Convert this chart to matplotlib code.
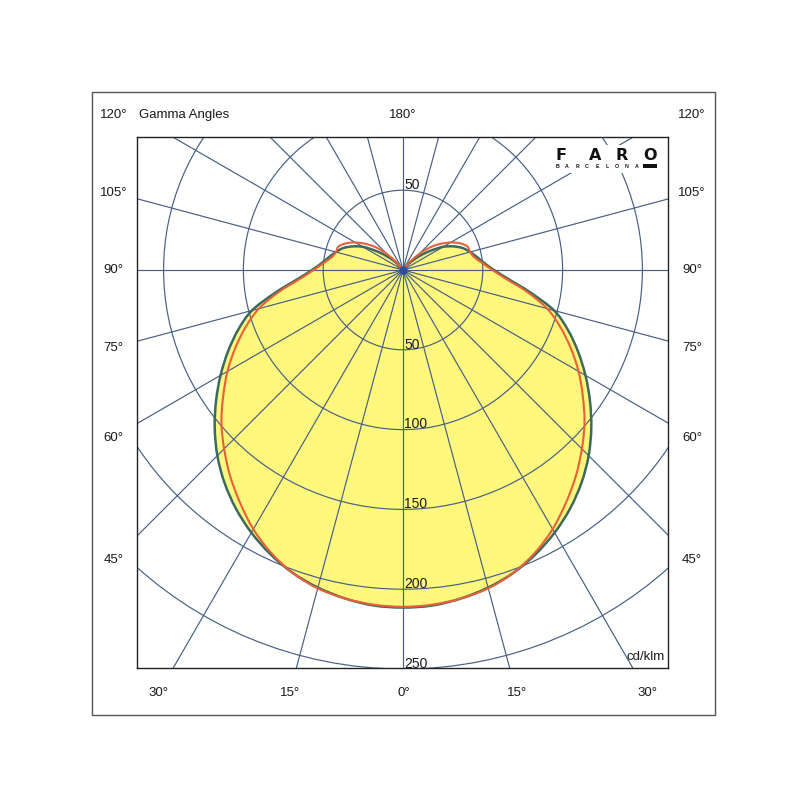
import numpy as np
import matplotlib
matplotlib.use("Agg")
import matplotlib.pyplot as plt
from matplotlib.patches import Circle, Rectangle, PathPatch
from matplotlib.path import Path

plt.rcParams['font.family'] = ['Liberation Sans', 'DejaVu Sans']

# ---- data (cd/klm) ----
gamma = [0, 5, 10, 15, 20, 25, 30, 35, 40, 45, 50, 55, 60, 65, 70, 75, 80, 85, 90,
         95, 100, 105, 110, 115, 120, 125, 130, 135, 140, 145, 150, 155, 160, 165,
         170, 175, 180]
c0_c180 = [211.5, 211, 209, 206, 202, 196.5, 190, 182.5, 174, 164.5, 154, 143, 132,
           121, 110, 98, 81, 66.5, 57, 51, 47, 43.5, 40, 35, 29, 21, 14, 8, 4, 2, 1,
           0, 0, 0, 0, 0, 0]
c90_c270 = [211, 210.5, 209, 206.5, 202, 195.5, 187.5, 178, 168.5, 158.5, 148.5,
            137.5, 127, 116, 105, 93.5, 79, 65, 56, 50, 45.5, 43.5, 43, 39.5, 34.5,
            28.5, 22, 14, 6, 2, 1, 0, 0, 0, 0, 0, 0]
radial_ticks = [50, 100, 150, 200, 250]
angle_step = 15
side_labels = ['120°', '105°', '90°', '75°', '60°', '45°']
bottom_labels = ['30°', '15°', '0°', '15°', '30°']
unit_label = 'cd/klm'
title_label = 'Gamma Angles'
top_label = '180°'

# ---- layout ----
W = 800
S = 399 / 250.0          # pixels per cd/klm
CX, CY = 403, 270        # centre of diagram (pixels)
L, T, R, B = 137, 137, 668, 668

fig = plt.figure(figsize=(8, 8), dpi=100)
fig.patch.set_facecolor('white')
ax = fig.add_axes([L / W, 1 - B / W, (R - L) / W, (B - T) / W])
ax.set_xlim((L - CX) / S, (R - CX) / S)
ax.set_ylim(-(B - CY) / S, (CY - T) / S)
ax.set_xticks([])
ax.set_yticks([])
for sp in ax.spines.values():
    sp.set_color('#222222')
    sp.set_linewidth(1.0)

def fx(px):
    return px / W

def fy(py):
    return 1 - py / W

# outer frame
fig.patches.append(Rectangle((fx(92), fy(715)), 623 / W, 623 / W, fill=False,
                             edgecolor='#555555', lw=1.0, transform=fig.transFigure))


def to_xy(g_deg, r):
    g = np.radians(np.asarray(g_deg, float))
    r = np.asarray(r, float)
    return r * np.sin(g), -r * np.cos(g)


def mirrored(g, r):
    g = np.asarray(g, float)
    r = np.asarray(r, float)
    gg = np.concatenate([-g[::-1], g[1:]])
    rr = np.concatenate([r[::-1], r[1:]])
    return to_xy(gg, rr)


def smooth_path(x, y):
    """Smooth (Catmull-Rom style) Bezier path through the data points."""
    pts = np.column_stack([x, y])
    n = len(pts)
    verts = [pts[0]]
    codes = [Path.MOVETO]
    for i in range(n - 1):
        p0 = pts[i - 1] if i > 0 else pts[i]
        p1 = pts[i]
        p2 = pts[i + 1]
        p3 = pts[i + 2] if i + 2 < n else pts[i + 1]
        verts += [p1 + (p2 - p0) / 6.0, p2 - (p3 - p1) / 6.0, p2]
        codes += [Path.CURVE4] * 3
    return Path(np.array(verts), codes)


grid_col = '#465f86'

# yellow fill
tx, ty = mirrored(gamma, c0_c180)
teal_path = smooth_path(tx, ty)
ax.add_patch(PathPatch(teal_path, facecolor='#fff87c', edgecolor='none', zorder=1))

# grid circles
for rt in radial_ticks + [300]:
    ax.add_patch(Circle((0, 0), rt, fill=False, edgecolor=grid_col, lw=0.85, zorder=2))
# radial lines
for a in range(0, 360, angle_step):
    lx, ly = to_xy([a, a], [0, 400])
    ax.plot(lx, ly, color=grid_col, lw=0.85, zorder=2)

# curves
ax.add_patch(PathPatch(teal_path, facecolor='none', edgecolor='#3d6a5e', lw=1.8,
                       zorder=3, joinstyle='round'))
rx, ry = mirrored(gamma, c90_c270)
ax.add_patch(PathPatch(smooth_path(rx, ry), facecolor='none', edgecolor='#e8603a',
                       lw=1.5, zorder=4, joinstyle='round'))
ax.plot([0], [0], 'o', ms=5, color='#2b4f9e', zorder=5)

# radial value labels
ax.text(0.6, radial_ticks[0] + 0.6, str(radial_ticks[0]), fontsize=10,
        ha='left', va='baseline', color='#1a1a1a', zorder=6)
for rt in radial_ticks:
    ax.text(0.6, -rt + 0.8, str(rt), fontsize=10, ha='left', va='baseline',
            color='#1a1a1a', zorder=6)

# logo area (white box covering grid)
ax.add_patch(Rectangle((fx(546), fy(173)), 119 / W, 28 / W, transform=fig.transFigure,
                       facecolor='white', edgecolor='none', zorder=7))
for ch, px in zip('FARO', [561, 595.5, 622, 650]):
    ax.text(fx(px), fy(155.5), ch, transform=fig.transFigure, fontsize=11.5,
            fontweight='bold', ha='center', va='center', color='#111111', zorder=8,
            family='DejaVu Sans')
for i, ch in enumerate('BARCELONA'):
    ax.text(fx(557 + i * 10), fy(166), ch, transform=fig.transFigure, fontsize=3.8,
            fontweight='bold', ha='center', va='center', color='#111111', zorder=8)
ax.add_patch(Rectangle((fx(643), fy(168)), 14 / W, 4 / W, transform=fig.transFigure,
                       facecolor='#111111', edgecolor='none', zorder=8))

# angle labels around frame
txt = dict(fontsize=9.5, color='#1a1a1a', va='center')
side_y = [115, 193, 270, 348, 438, 560]
for lab, py in zip(side_labels, side_y):
    fig.text(fx(113.5), fy(py), lab, ha='center', **txt)
    fig.text(fx(692), fy(py), lab, ha='center', **txt)
bottom_x = [158, 290, 403.5, 517, 647]
for lab, px in zip(bottom_labels, bottom_x):
    fig.text(fx(px), fy(693), lab, ha='center', **txt)
fig.text(fx(403), fy(115), top_label, ha='center', **txt)
fig.text(fx(139), fy(115), title_label, ha='left', **txt)
fig.text(fx(665), fy(657), unit_label, ha='right', **txt)

fig.savefig('out.png', dpi=100, facecolor='white')
